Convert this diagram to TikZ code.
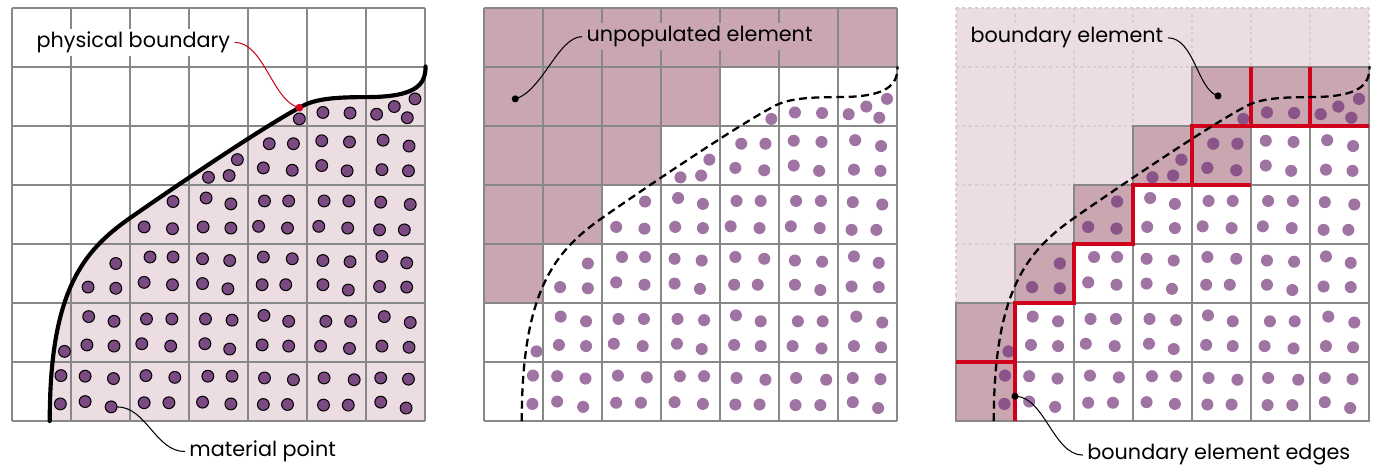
\documentclass[tikz,border=0pt]{standalone}
\usepackage{fontspec}
\setmainfont{Poppins}
\usepackage{tikz}
\usetikzlibrary{calc}

\definecolor{lightpink}{HTML}{EBDDE2}
\definecolor{darkpink}{HTML}{C9A6B0}
\definecolor{mpdark}{HTML}{7B4A82}
\definecolor{mplight}{HTML}{9F74A3}
\definecolor{mpmid}{HTML}{8A5489}
\definecolor{gridgray}{HTML}{888888}
\definecolor{dotgray}{HTML}{D6CCD1}
\definecolor{edgered}{HTML}{D0021B}

% physical boundary, in cell units
\newcommand{\bdry}{(0.64,0) .. controls (0.64,2.2) and (1.2,2.88) .. (2,3.44)
  .. controls (2.6,3.86) and (4.2,4.95) .. (4.87,5.31)
  .. controls (5.1,5.45) and (5.4,5.49) .. (6,5.49)
  .. controls (6.85,5.49) and (7.01,5.7) .. (7.01,6.01)}
\newcommand{\emptyzone}{(0,2) -- (1,2) -- (1,3) -- (2,3) -- (2,4) -- (3,4) -- (3,5) -- (4,5) -- (4,6) -- (7,6) -- (7,7) -- (0,7) -- cycle}
\newcommand{\fullzone}{(0,0) -- (7,0) -- (7,6) -- (4,6) -- (4,5) -- (3,5) -- (3,4) -- (2,4) -- (2,3) -- (1,3) -- (1,2) -- (0,2) -- cycle}
\newcommand{\bcells}{(0,0) rectangle (1,2) (1,2) rectangle (2,3) (2,3) rectangle (3,4) (3,4) rectangle (5,5) (4,5) rectangle (7,6)}

% material points
\newcommand{\mplist}{4.87/5.12, 5.27/5.23, 5.73/5.22, 6.18/5.20, 6.48/5.33, 6.83/5.46, 6.70/5.14,
3.82/4.43, 3.33/4.13, 3.68/4.16, 4.36/4.70, 4.77/4.70, 4.26/4.29, 4.75/4.25, 5.25/4.75, 5.72/4.73, 5.25/4.33, 5.68/4.24, 6.29/4.76, 6.73/4.66, 6.27/4.26, 6.72/4.24,
2.73/3.72, 2.24/3.29, 2.72/3.26, 3.29/3.78, 3.71/3.68, 3.24/3.29, 3.71/3.27, 4.28/3.73, 4.69/3.73, 4.18/3.30, 4.67/3.27, 5.29/3.73, 5.71/3.73, 5.20/3.30, 5.69/3.27, 6.25/3.71, 6.75/3.67, 6.23/3.24, 6.65/3.24,
1.76/2.67, 1.29/2.27, 1.76/2.25, 2.34/2.78, 2.73/2.78, 2.24/2.35, 2.72/2.31, 3.23/2.75, 3.69/2.72, 3.23/2.33, 3.66/2.24, 4.26/2.78, 4.75/2.75, 4.24/2.31, 4.64/2.31, 5.27/2.72, 5.73/2.70, 5.27/2.31, 5.70/2.22, 6.27/2.79, 6.69/2.68, 6.23/2.28, 6.69/2.27,
0.89/1.18, 1.30/1.77, 1.73/1.69, 1.27/1.29, 1.73/1.27, 2.28/1.73, 2.71/1.73, 2.20/1.31, 2.69/1.27, 3.28/1.73, 3.73/1.71, 3.27/1.31, 3.69/1.22, 4.27/1.79, 4.69/1.69, 4.24/1.29, 4.69/1.27, 5.32/1.69, 5.74/1.69, 5.23/1.27, 5.72/1.23, 6.31/1.77, 6.75/1.67, 6.27/1.27, 6.73/1.25,
0.83/0.77, 0.82/0.29, 1.24/0.76, 1.72/0.72, 1.24/0.33, 1.68/0.24, 2.27/0.77, 2.76/0.74, 2.24/0.31, 2.66/0.31, 3.32/0.76, 3.73/0.76, 3.23/0.32, 3.71/0.29, 4.28/0.73, 4.77/0.70, 4.26/0.28, 4.67/0.28, 5.29/0.73, 5.80/0.70, 5.28/0.27, 5.70/0.27, 6.25/0.73, 6.72/0.71, 6.25/0.32, 6.68/0.22}

\begin{document}
\begin{tikzpicture}[
  gridline/.style={draw=gridgray, line width=0.9pt},
  bline/.style={line width=2pt, line cap=round},
  dline/.style={line width=1.1pt, dash pattern=on 3.8pt off 2.2pt},
  redline/.style={draw=edgered, line width=1.5pt},
  lead/.style={line width=0.5pt},
  lbl/.style={font=\fontsize{10}{12}\selectfont, inner xsep=2pt, inner ysep=1.5pt, anchor=base west}
]
\useasboundingbox (-0.203,-0.881) rectangle (23.237,7.136);

% left: particles and boundary
\begin{scope}
\fill[lightpink] \bdry -- (7,0) -- cycle;
\draw[gridline] (0,0) grid (7,7);
\foreach \x/\y in \mplist
  \draw[fill=mpdark, line width=0.5pt] (\x,\y) circle (0.1);
\draw[bline] \bdry;

\node[lbl, fill=white] (physb) at (0.34,6.33) {physical boundary};
\coordinate (bpt) at (4.87,5.31);
\draw[lead, edgered] (physb.east) .. controls +(0.5,0) and +(-0.45,0.1) .. (bpt);
\fill[edgered] (bpt) circle (0.065);

\node[lbl] (mpt) at (2.93,-0.605) {material point};
\coordinate (mpdot) at (1.68,0.24);
\draw[lead, shorten <=0.1cm] (mpdot) .. controls +(0.6,0) and +(-0.5,0) .. (mpt.west);
\end{scope}

% middle: unpopulated elements
\begin{scope}[xshift=8cm]
\fill[darkpink] \emptyzone;
\draw[gridline] (0,0) grid (7,7);
\foreach \x/\y in \mplist
  \fill[mplight] (\x,\y) circle (0.102);
\draw[dline] \bdry;

\node[lbl, fill=darkpink] (unpop) at (1.66,6.43) {unpopulated element};
\coordinate (updot) at (0.53,5.46);
\draw[lead] (unpop.west) .. controls +(-0.4,0) and +(0.45,0.12) .. (updot);
\fill (updot) circle (0.06);
\end{scope}

% right: boundary elements
\begin{scope}[xshift=16cm]
\fill[lightpink] \emptyzone;
\fill[darkpink] \bcells;
\draw[gridline, draw=dotgray, dash pattern=on 1.5pt off 1.5pt] (0,0) grid (7,7);
\begin{scope}
  \clip \fullzone;
  \draw[gridline] (0,0) grid (7,7);
\end{scope}
\draw[gridline] \fullzone;
\foreach \x/\y in \mplist
  \fill[mplight] (\x,\y) circle (0.102);
\begin{scope}
  \clip \bcells;
  \foreach \x/\y in \mplist
    \fill[mpmid] (\x,\y) circle (0.102);
\end{scope}

\draw[redline] (0,1) -- (1,1);
\draw[redline] (1,0) -- (1,2) -- (2,2) -- (2,3) -- (3,3) -- (3,4) -- (5,4);
\draw[redline] (4,4) -- (4,5) -- (7,5);
\draw[redline] (5,5) -- (5,6);
\draw[redline] (6,5) -- (6,6);
\draw[dline] \bdry;

\node[lbl, fill=lightpink] (belem) at (0.17,6.41) {boundary element};
\coordinate (bedot) at (4.44,5.51);
\draw[lead] (belem.east) .. controls +(0.45,0) and +(-0.35,0.1) .. (bedot);
\fill (bedot) circle (0.06);

\node[lbl] (bedges) at (2.15,-0.66) {boundary element edges};
\coordinate (eddot) at (1,0.42);
\draw[lead] (eddot) .. controls +(0.5,0) and +(-0.5,0) .. (bedges.west);
\fill (eddot) circle (0.06);
\end{scope}

\end{tikzpicture}
\end{document}
